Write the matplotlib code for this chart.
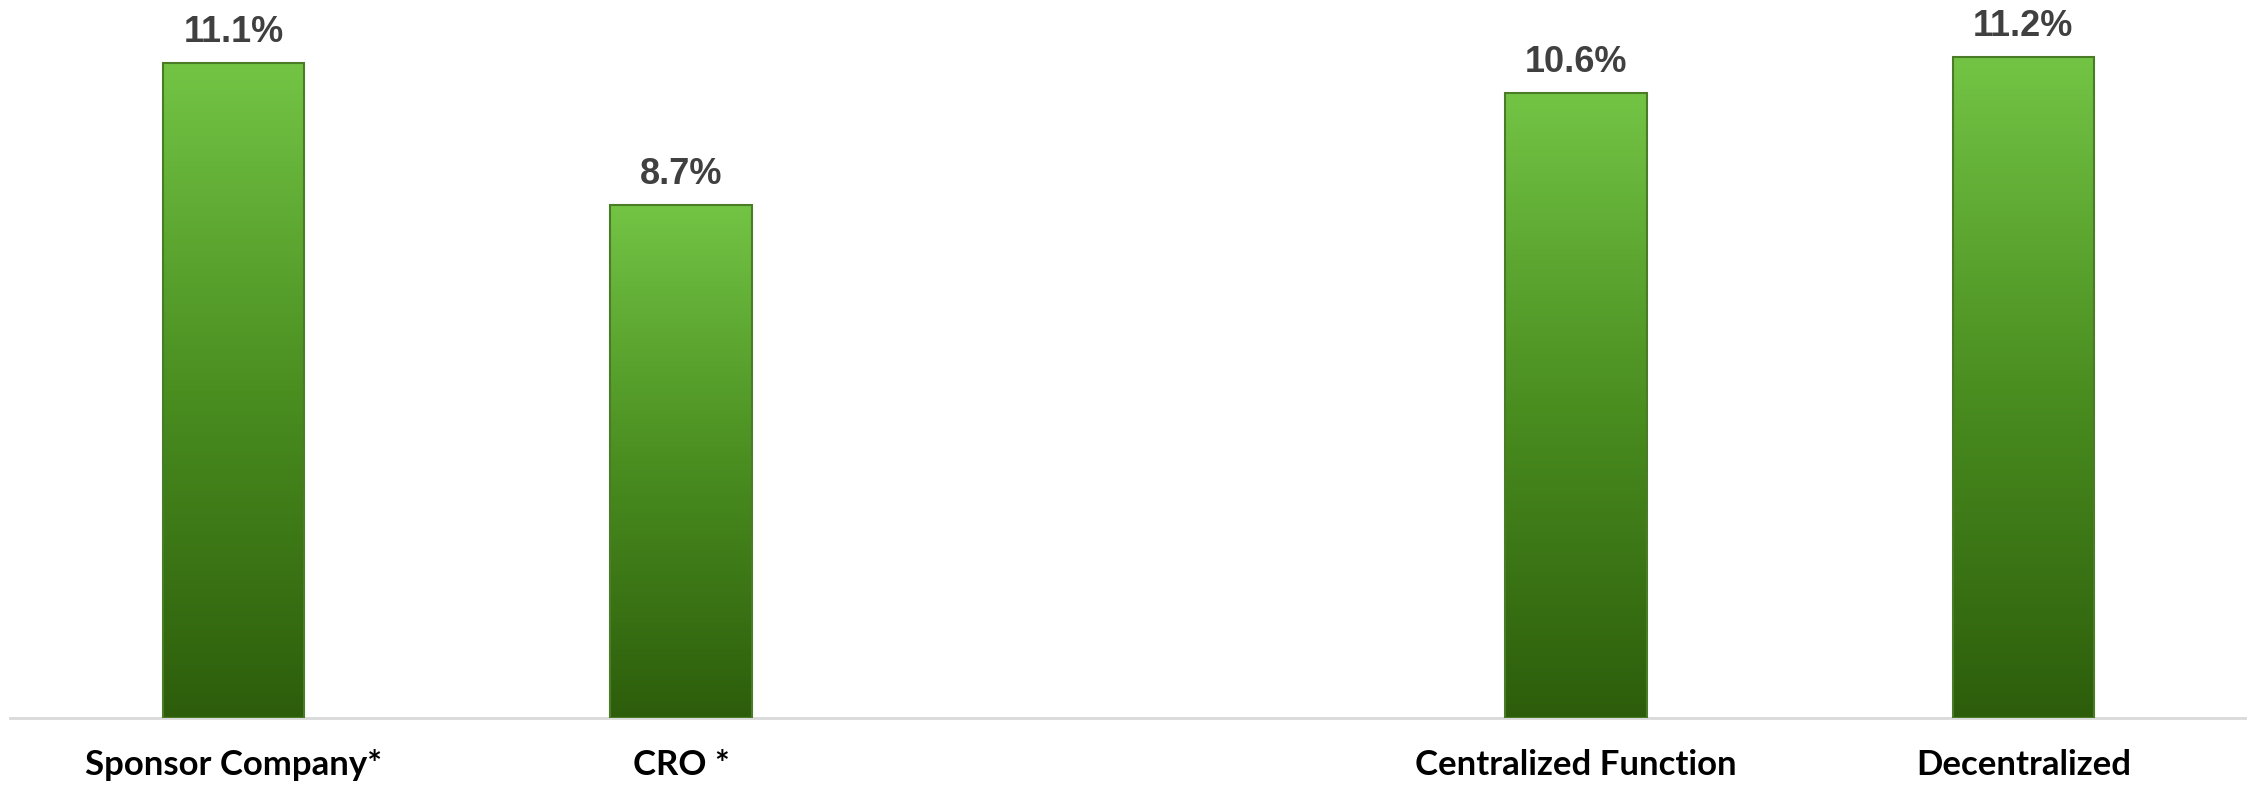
import numpy as np
import matplotlib.pyplot as plt
from matplotlib.colors import LinearSegmentedColormap

categories = ['Sponsor Company*', 'CRO *', '', 'Centralized Function', 'Decentralized']
values = [11.1, 8.7, np.nan, 10.6, 11.2]
labels = ['11.1%', '8.7%', '', '10.6%', '11.2%']

W, H, dpi = 2247, 786, 100
fig = plt.figure(figsize=(W / dpi, H / dpi), dpi=dpi)
ax = fig.add_axes([10 / W, 68 / H, 1 - 10 / W, 718 / H])

green = LinearSegmentedColormap.from_list('grn', ['#2d5d0b', '#4a8e20', '#73c445'])
grad = np.linspace(0, 1, 256).reshape(-1, 1)

x = np.arange(len(categories))
vals = np.array(values, dtype=float)
keep = ~np.isnan(vals)
bars = ax.bar(x[keep], vals[keep], width=0.316, facecolor='none',
              edgecolor='#4a7c28', linewidth=1.5, zorder=3)

for b in bars:
    x0, w, h = b.get_x(), b.get_width(), b.get_height()
    im = ax.imshow(grad, cmap=green, aspect='auto', origin='lower',
                   extent=[x0, x0 + w, 0, h], zorder=2)
    im.set_clip_path(b)

for xi, v, lab in zip(x[keep], vals[keep], np.array(labels)[keep]):
    ax.annotate(lab, (xi, v), xytext=(0, 15), textcoords='offset points',
                ha='center', va='baseline', fontsize=26, fontweight='bold',
                family='Liberation Sans', color='#404040')

ax.set_xlim(-0.5, 4.5)
ax.set_ylim(0, 718 / 59)
ax.set_xticks(x)
ax.set_xticklabels(categories, fontsize=25, fontweight='bold', family='Lato', color='black')
ax.tick_params(axis='x', length=0, pad=22)
ax.set_yticks([])
for s in ['top', 'right', 'left']:
    ax.spines[s].set_visible(False)
ax.spines['bottom'].set_color('#d9d9d9')
ax.spines['bottom'].set_linewidth(2)

fig.savefig('out.png', dpi=dpi)
